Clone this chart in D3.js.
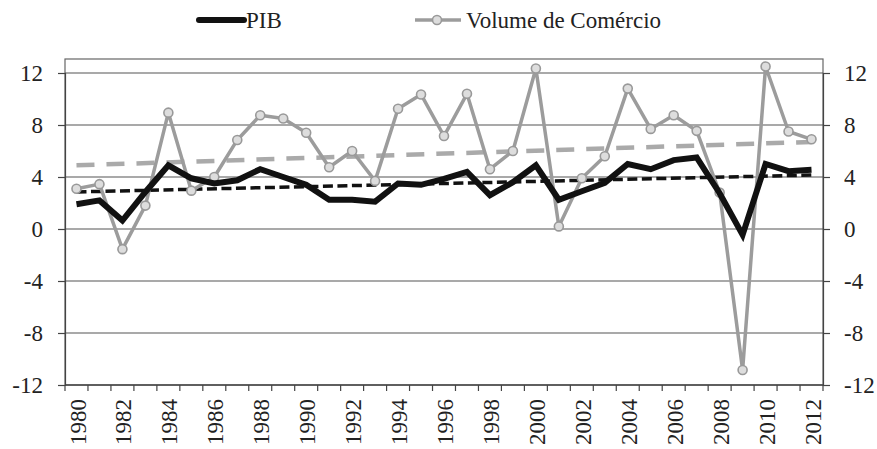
<!DOCTYPE html>
<html>
<head>
<meta charset="utf-8">
<script src="https://cdn.jsdelivr.net/npm/d3@7"></script>
<style>
  body { margin: 0; background: #fff; }
  svg { display: block; font-family: "Liberation Serif", "DejaVu Serif", serif; }
  svg text { font-family: "Liberation Serif", "DejaVu Serif", serif; }
</style>
</head>
<body>
<svg id="svg"></svg>
<script>
// data
let years = d3.range(1980, 2013);
let pib = [1.9, 2.2, 0.65, 2.85, 4.9, 3.9, 3.5, 3.75, 4.6, 4.0, 3.4, 2.25, 2.25, 2.1, 3.5, 3.4,
    3.85, 4.4, 2.6, 3.6, 4.9, 2.25, 2.9, 3.55, 5.0, 4.6, 5.3, 5.5, 2.75, -0.45, 5.0, 4.45, 4.55];
let comercio = [3.1, 3.45, -1.55, 1.8, 8.95, 2.95, 4.0, 6.85, 8.75, 8.5, 7.4, 4.75, 6.0, 3.7, 9.25, 10.35,
    7.15, 10.4, 4.6, 6.0, 12.35, 0.2, 3.9, 5.6, 10.8, 7.7, 8.75, 7.55, 2.8, -10.85, 12.5, 7.5, 6.9];
// trend line ends (1980 and 2012)
let pibTrend = [2.85, 4.15];
let comercioTrend = [4.9, 6.7];
let yTicks = [-12, -8, -4, 0, 4, 8, 12];
let xLabels = years.filter(y => y % 2 === 0);

const width = 877;
const height = 449;
const margin = { top: 59, right: 54, bottom: 64, left: 65 };
const serif = "Liberation Serif, DejaVu Serif, serif";

let svg = d3.select("#svg").attr("width", width).attr("height", height);

let chartWidth = width - margin.left - margin.right;
let chartHeight = height - margin.top - margin.bottom;

let xScale = d3.scaleBand()
    .domain(years)
    .range([margin.left, margin.left + chartWidth]);

let yScale = d3.scaleLinear()
    .domain([-12, 12])
    .range([margin.top + chartHeight, margin.top + 14]);

let xc = d => xScale(d) + xScale.bandwidth() / 2;

// frame
svg.append("rect")
    .attr("x", margin.left)
    .attr("y", margin.top)
    .attr("width", chartWidth)
    .attr("height", chartHeight)
    .attr("fill", "none")
    .attr("stroke", "#666")
    .attr("stroke-width", 1.2);

// gridlines
svg.append("g")
    .selectAll("line")
    .data(yTicks)
    .enter().append("line")
    .attr("x1", margin.left)
    .attr("x2", margin.left + chartWidth)
    .attr("y1", d => yScale(d))
    .attr("y2", d => yScale(d))
    .attr("stroke", "#555")
    .attr("stroke-width", 1.2);

// left axis
let leftAxis = svg.append("g")
    .attr("transform", `translate(${margin.left},0)`)
    .call(d3.axisLeft(yScale).tickValues(yTicks).tickSize(7).tickPadding(15).tickFormat(d => String(d)));

// right axis
let rightAxis = svg.append("g")
    .attr("transform", `translate(${margin.left + chartWidth},0)`)
    .call(d3.axisRight(yScale).tickValues(yTicks).tickSize(7).tickPadding(14).tickFormat(d => String(d)));

// bottom axis, ticks between categories
let bottomAxis = svg.append("g")
    .attr("transform", `translate(0,${margin.top + chartHeight})`)
    .attr("font-family", serif);
bottomAxis.append("line")
    .attr("x1", margin.left).attr("x2", margin.left + chartWidth)
    .attr("stroke", "#444").attr("stroke-width", 1.2);
bottomAxis.selectAll(".tk")
    .data(years.concat([2013]))
    .enter().append("line")
    .attr("class", "tk")
    .attr("x1", d => d === 2013 ? margin.left + chartWidth : xScale(d))
    .attr("x2", d => d === 2013 ? margin.left + chartWidth : xScale(d))
    .attr("y1", 0).attr("y2", 6)
    .attr("stroke", "#444").attr("stroke-width", 1.2);
bottomAxis.selectAll(".lbl")
    .data(xLabels)
    .enter().append("text")
    .attr("class", "lbl")
    .attr("transform", d => `translate(${xc(d) + 1},14) rotate(-90)`)
    .attr("dy", "0.35em")
    .attr("text-anchor", "end")
    .attr("fill", "#222")
    .style("font-size", "23px")
    .text(d => d);

[leftAxis, rightAxis].forEach(a => {
    a.attr("font-family", serif).attr("font-size", 23);
    a.select(".domain").attr("stroke", "#444").attr("stroke-width", 1.2);
    a.selectAll(".tick line").attr("stroke", "#444").attr("stroke-width", 1.2);
    a.selectAll(".tick text").attr("fill", "#222");
});

// trend lines
svg.append("line")
    .attr("x1", xc(1980)).attr("x2", xc(2012))
    .attr("y1", yScale(comercioTrend[0])).attr("y2", yScale(comercioTrend[1]))
    .attr("stroke", "#aaa")
    .attr("stroke-width", 4.5)
    .attr("stroke-dasharray", "18,12");

svg.append("line")
    .attr("x1", xc(1980)).attr("x2", xc(2012))
    .attr("y1", yScale(pibTrend[0])).attr("y2", yScale(pibTrend[1]))
    .attr("stroke", "#111")
    .attr("stroke-width", 3.5)
    .attr("stroke-dasharray", "10,4.5");

let line = d3.line()
    .x((d, i) => xc(years[i]))
    .y(d => yScale(d));

// volume de comercio
svg.append("path")
    .datum(comercio)
    .attr("d", line)
    .attr("fill", "none")
    .attr("stroke", "#9c9c9c")
    .attr("stroke-width", 3.5)
    .attr("stroke-linejoin", "round");

svg.append("g")
    .selectAll("circle")
    .data(comercio)
    .enter().append("circle")
    .attr("cx", (d, i) => xc(years[i]))
    .attr("cy", d => yScale(d))
    .attr("r", 4.5)
    .attr("fill", "#ddd")
    .attr("stroke", "#999")
    .attr("stroke-width", 1.6);

// PIB
svg.append("path")
    .datum(pib)
    .attr("d", line)
    .attr("fill", "none")
    .attr("stroke", "#111")
    .attr("stroke-width", 6)
    .attr("stroke-linejoin", "miter");

// legend
let legend = svg.append("g").attr("font-family", serif);
legend.append("line")
    .attr("x1", 199).attr("x2", 244).attr("y1", 20).attr("y2", 20)
    .attr("stroke", "#111").attr("stroke-width", 6).attr("stroke-linecap", "round");
legend.append("text")
    .attr("x", 246).attr("y", 28)
    .attr("fill", "#222")
    .style("font-size", "23px")
    .text("PIB");
legend.append("line")
    .attr("x1", 415).attr("x2", 461).attr("y1", 20).attr("y2", 20)
    .attr("stroke", "#9c9c9c").attr("stroke-width", 3.5);
legend.append("circle")
    .attr("cx", 437).attr("cy", 20).attr("r", 4.5)
    .attr("fill", "#ddd").attr("stroke", "#999").attr("stroke-width", 1.6);
legend.append("text")
    .attr("x", 466).attr("y", 28)
    .attr("fill", "#222")
    .style("font-size", "23px")
    .text("Volume de Comércio");
</script>
</body>
</html>
